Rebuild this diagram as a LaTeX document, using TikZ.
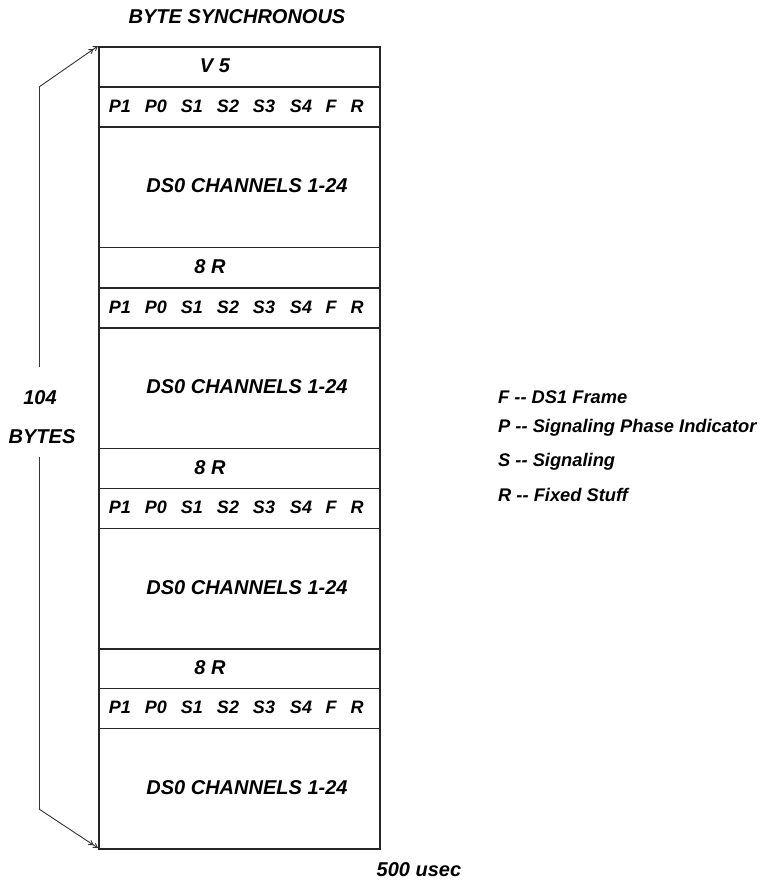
\documentclass[tikz,border=0pt]{standalone}
\usepackage{fontspec}
\setmainfont{Liberation Sans}
\usetikzlibrary{arrows.meta}

\tikzset{
  lbl/.style={font=\fontsize{20}{22}\selectfont\bfseries\itshape, inner sep=0pt, text=black},
  bit/.style={font=\fontsize{18}{20}\selectfont\bfseries\itshape, inner sep=0pt, text=black},
  key/.style={font=\fontsize{18.3}{20}\selectfont\bfseries\itshape, inner sep=0pt, text=black, anchor=west},
  rowbox/.style={draw=black!85, line width=1.5pt, anchor=north west,
                 minimum width=281pt, inner sep=0pt},
  thin row/.style={rowbox, minimum height=40pt},
  tall row/.style={rowbox, minimum height=120.5pt},
  span/.style={line width=0.9pt, draw=black!80},
  spantip/.style={span, -{Straight Barb[length=4pt,width=5pt]Straight Barb[length=4pt,width=5pt]}}
}

\begin{document}
\begin{tikzpicture}[x=1pt, y=-1pt]
  \useasboundingbox (0,0) rectangle (761,881);

  % title
  \node[lbl] (title) at (237,17) {BYTE SYNCHRONOUS};

  % frame rows, stacked from the top edge of the frame
  \node[thin row] (v5) at (98,46) {};
  \node[lbl] (v5t) at (215,66) {V 5};

  \foreach \i/\top in {1/86, 2/287, 3/487.5, 4/687.5} {
    % signalling byte row
    \node[thin row] (sig\i) at (98,\top) {};
    \foreach \lab/\xc [count=\k] in {P1/120, P0/156, S1/192, S2/228, S3/264, S4/301, F/331, R/357} {
      \node[bit] (sig\i-\k) at (\xc,\top+20) {\lab};
    }
    % DS0 payload row
    \node[tall row] (ds\i) at (98,\top+40) {};
    \node[lbl] (dst\i) at (247,\top+40+60) {DS0 CHANNELS 1-24};
  }

  % fixed stuff rows between the blocks
  \foreach \j/\top in {1/246.5, 2/447.5, 3/647.5} {
    \node[thin row] (fr\j) at (98,\top) {};
    \node[lbl] (frt\j) at (210,\top+20) {8 R};
  }

  % overall length marker on the left
  \coordinate (ftl) at (98,46);
  \coordinate (fbl) at (98,848);
  \coordinate (vtop) at (39,87);
  \coordinate (vbot) at (39,809);
  \coordinate (vbreak1) at (39,367);
  \coordinate (vbreak2) at (39,457);
  \node[lbl] (n104) at (40,398) {104};
  \node[lbl] (nbytes) at (42,437) {BYTES};
  \draw[span] (vtop) -- (vbreak1);
  \draw[span] (vbreak2) -- (vbot);
  \draw[spantip] (vtop) -- (ftl);
  \draw[spantip] (vbot) -- (fbl);

  % duration
  \node[lbl] (dur) at (419,870) {500 usec};

  % legend
  \node[key] (lf) at (498,397) {F -{}- DS1 Frame};
  \node[key] (lp) at (498,428) {P -{}- Signaling Phase Indicator};
  \node[key] (ls) at (498,462) {S -{}- Signaling};
  \node[key] (lr) at (498,495) {R -{}- Fixed Stuff};
\end{tikzpicture}
\end{document}
